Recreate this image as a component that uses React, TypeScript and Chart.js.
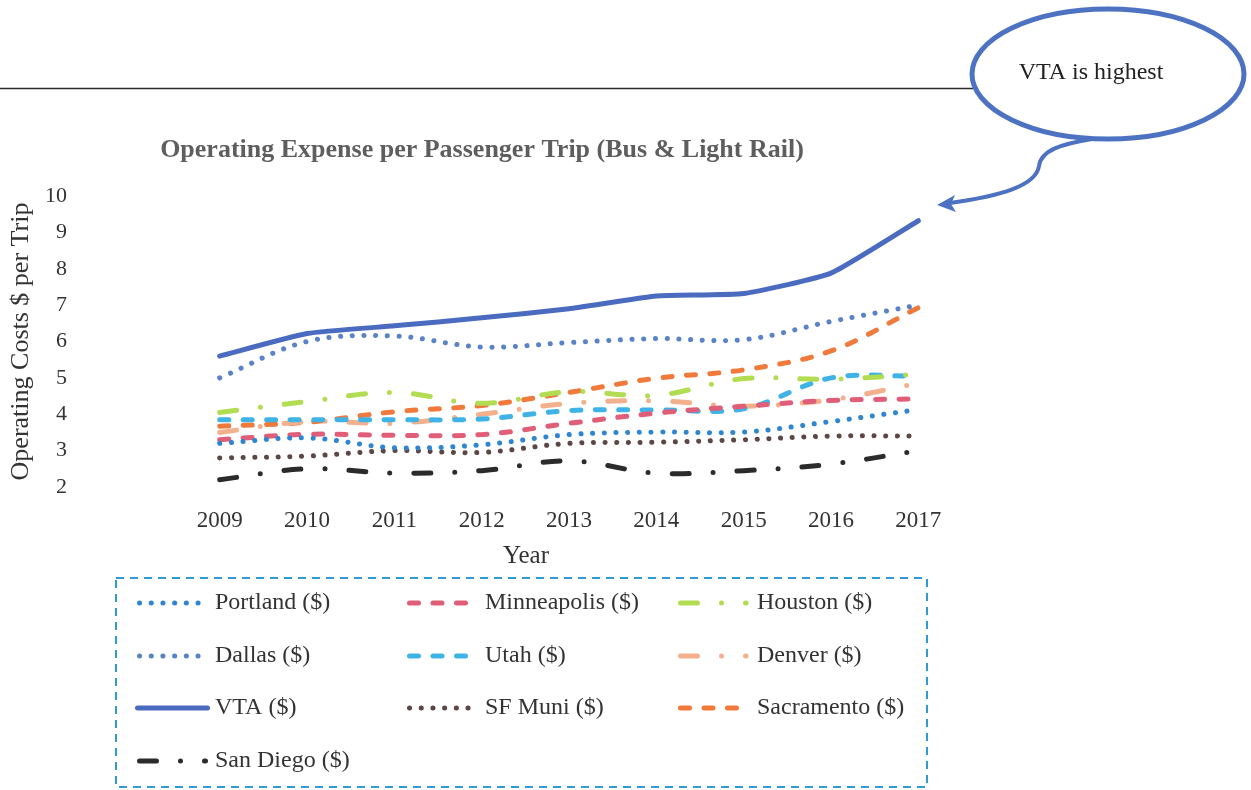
import React, { useEffect, useRef } from "react";
import { Chart, registerables } from "chart.js";

Chart.register(...registerables);

const years = ["2009", "2010", "2011", "2012", "2013", "2014", "2015", "2016", "2017"];
const yTicks = [2, 3, 4, 5, 6, 7, 8, 9, 10];

const portland = [3.2, 3.35, 3.08, 3.16, 3.44, 3.51, 3.51, 3.8, 4.13];
const minneapolis = [3.3, 3.45, 3.42, 3.44, 3.75, 4.03, 4.22, 4.38, 4.42];
const houston = [4.05, 4.35, 4.6, 4.3, 4.62, 4.52, 4.98, 4.96, 5.1];
const dallas = [5.0, 6.0, 6.15, 5.85, 5.97, 6.08, 6.05, 6.55, 7.0];
const utah = [3.85, 3.85, 3.85, 3.87, 4.1, 4.12, 4.15, 5.0, 5.05];
const denver = [3.5, 3.8, 3.75, 4.0, 4.3, 4.37, 4.22, 4.4, 4.85];
const vta = [5.6, 6.22, 6.43, 6.65, 6.9, 7.25, 7.32, 7.88, 9.32];
const sfMuni = [2.8, 2.85, 3.0, 2.95, 3.2, 3.23, 3.3, 3.4, 3.4];
const sacramento = [3.67, 3.78, 4.07, 4.24, 4.6, 4.99, 5.22, 5.74, 6.93];
const sanDiego = [2.2, 2.5, 2.38, 2.45, 2.72, 2.38, 2.45, 2.63, 3.0];

const seriesNames = [
  "Portland ($)",
  "Minneapolis ($)",
  "Houston ($)",
  "Dallas ($)",
  "Utah ($)",
  "Denver ($)",
  "VTA ($)",
  "SF Muni ($)",
  "Sacramento ($)",
  "San Diego ($)",
];

const DOT = [0.1, 11.6];
const DASH = [9, 14.5];
const DASHDOT = [17, 24, 0, 24];

const SERIF = '"Liberation Serif", "Times New Roman", serif';

const overlayPlugin = {
  id: "overlay",
  afterDraw(chart: any) {
    const ctx: CanvasRenderingContext2D = chart.ctx;
    ctx.save();

    // horizontal rule
    ctx.strokeStyle = "#2a2a2a";
    ctx.lineWidth = 1.5;
    ctx.setLineDash([]);
    ctx.beginPath();
    ctx.moveTo(0, 88.5);
    ctx.lineTo(973, 88.5);
    ctx.stroke();

    // callout ellipse
    ctx.strokeStyle = "#4d72c2";
    ctx.lineWidth = 5;
    ctx.beginPath();
    ctx.ellipse(1108, 74, 136, 65, 0, 0, Math.PI * 2);
    ctx.stroke();

    // callout arrow
    ctx.lineWidth = 4;
    ctx.lineCap = "round";
    ctx.beginPath();
    ctx.moveTo(1092, 139);
    ctx.bezierCurveTo(1062, 144, 1041, 150, 1039, 166);
    ctx.bezierCurveTo(1036, 186, 1000, 196, 950, 203);
    ctx.stroke();
    ctx.fillStyle = "#4d72c2";
    ctx.beginPath();
    ctx.moveTo(937, 205);
    ctx.lineTo(955, 195);
    ctx.lineTo(951, 204);
    ctx.lineTo(956, 212);
    ctx.closePath();
    ctx.fill();

    ctx.fillStyle = "#222";
    ctx.font = `24px ${SERIF}`;
    ctx.textAlign = "center";
    ctx.textBaseline = "middle";
    ctx.fillText("VTA is highest", 1091, 73);

    // title
    ctx.fillStyle = "#5e5e5e";
    ctx.font = `bold 26px ${SERIF}`;
    ctx.fillText("Operating Expense per Passenger Trip (Bus & Light Rail)", 482, 150);

    // x axis title
    ctx.fillStyle = "#333";
    ctx.font = `25px ${SERIF}`;
    ctx.fillText("Year", 526, 556);

    // legend box
    ctx.strokeStyle = "#2f9ad6";
    ctx.lineWidth = 2;
    ctx.lineCap = "butt";
    ctx.setLineDash([8, 6]);
    ctx.strokeRect(116, 578, 811, 209);

    // legend items
    const colX = [139.5, 409.5, 680.5];
    const sampleLen = [66, 60, 65.5];
    const textX = [215, 485, 757];
    const rowY = [603, 656, 708, 761];
    chart.data.datasets.forEach((ds: any, i: number) => {
      const r = Math.floor(i / 3);
      const c = i % 3;
      const y = rowY[r];
      ctx.save();
      ctx.strokeStyle = ds.borderColor;
      ctx.lineWidth = ds.borderWidth;
      ctx.lineCap = "round";
      ctx.setLineDash(ds.borderDash || []);
      ctx.lineDashOffset = 0;
      ctx.beginPath();
      const x0 = ds.borderDash && ds.borderDash.length ? colX[c] : colX[c] - 2;
      const len = ds.borderDash && ds.borderDash.length ? sampleLen[c] : 70;
      ctx.moveTo(x0, y);
      ctx.lineTo(x0 + len, y);
      ctx.stroke();
      ctx.restore();
      ctx.fillStyle = "#333";
      ctx.font = `24px ${SERIF}`;
      ctx.textAlign = "left";
      ctx.textBaseline = "middle";
      ctx.fillText(ds.label, textX[c], y);
    });

    ctx.restore();
  },
};

function makeDataset(label: string, data: number[], color: string, dash: number[], width: number, tension: number) {
  return {
    label,
    data,
    borderColor: color,
    backgroundColor: color,
    borderWidth: width,
    borderDash: dash,
    borderCapStyle: "round",
    borderJoinStyle: "round",
    pointRadius: 0,
    pointHoverRadius: 0,
    tension,
    fill: false,
  };
}

export default function App() {
  const ref = useRef<HTMLCanvasElement | null>(null);

  useEffect(() => {
    if (!ref.current) return;
    const datasets = [
      makeDataset(seriesNames[0], portland, "#2e86d2", DOT, 5, 0.35),
      makeDataset(seriesNames[1], minneapolis, "#e05e78", DASH, 5, 0.35),
      makeDataset(seriesNames[2], houston, "#b2dc52", DASHDOT, 5, 0.35),
      makeDataset(seriesNames[3], dallas, "#5a82c6", DOT, 5, 0.35),
      makeDataset(seriesNames[4], utah, "#3fb3e6", DASH, 5, 0.35),
      makeDataset(seriesNames[5], denver, "#f3b08c", DASHDOT, 5, 0.35),
      makeDataset(seriesNames[6], vta, "#4a6bc0", [], 5, 0.15),
      makeDataset(seriesNames[7], sfMuni, "#5c4646", DOT, 5, 0.35),
      makeDataset(seriesNames[8], sacramento, "#f07a3c", DASH, 5, 0.35),
      makeDataset(seriesNames[9], sanDiego, "#2b2b2b", DASHDOT, 5, 0.35),
    ];
    const chart = new Chart(ref.current, {
      type: "line",
      data: { labels: years, datasets: datasets as any },
      plugins: [overlayPlugin],
      options: {
        animation: false,
        responsive: false,
        devicePixelRatio: 1,
        layout: { padding: { top: 196, bottom: 216, left: 0, right: 289 } },
        plugins: {
          legend: { display: false },
          title: { display: false },
          tooltip: { enabled: false },
        },
        scales: {
          x: {
            type: "category",
            offset: true,
            grid: { display: false, drawTicks: false },
            border: { display: false },
            ticks: {
              color: "#333",
              font: { family: SERIF, size: 23, lineHeight: 1.2 },
              padding: 20,
              maxRotation: 0,
              autoSkip: false,
            },
            afterFit(scale: any) {
              scale.height = 87;
            },
          },
          y: {
            min: 2,
            max: 10,
            afterBuildTicks(scale: any) {
              scale.ticks = yTicks.map((v) => ({ value: v }));
            },
            grid: { display: false, drawTicks: false },
            border: { display: false },
            ticks: {
              color: "#333",
              font: { family: SERIF, size: 22, lineHeight: 1.2 },
              padding: 109,
            },
            title: {
              display: true,
              text: "Operating Costs $ per Trip",
              color: "#333",
              font: { family: SERIF, size: 26, lineHeight: 1.2 },
              padding: { top: 6, bottom: 0 },
            },
            afterFit(scale: any) {
              scale.width = 176;
            },
          },
        },
      } as any,
    });
    return () => chart.destroy();
  }, []);

  return (
    <div style={{ position: "absolute", left: 0, top: 0, width: 1251, height: 790, background: "#fff" }}>
      <canvas ref={ref} width={1251} height={790} style={{ display: "block", width: 1251, height: 790 }} />
    </div>
  );
}
